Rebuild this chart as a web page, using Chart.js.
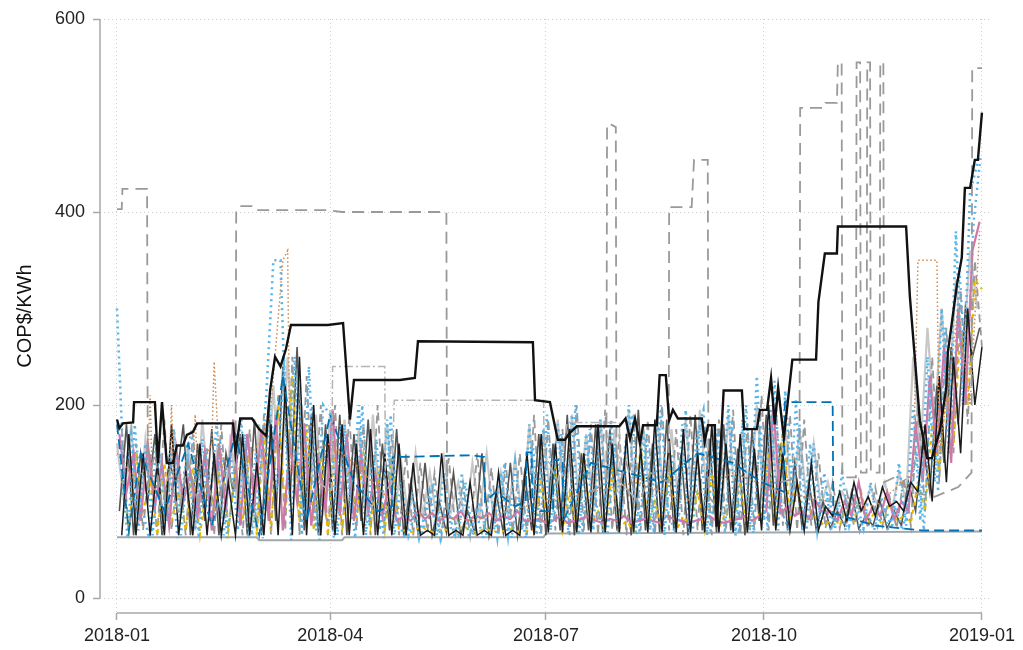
<!DOCTYPE html>
<html><head><meta charset="utf-8">
<script src="https://cdn.jsdelivr.net/npm/chart.js@4/dist/chart.umd.min.js"></script>
<style>html,body{margin:0;padding:0;background:#fff}</style>
</head><body>
<canvas id="c" width="1023" height="650"></canvas>
<script>
// ---- axis ticks ----
const xTickDays = [0, 90, 181, 273, 365];
const xTickLabels = ['2018-01', '2018-04', '2018-07', '2018-10', '2019-01'];
const yTicks = [0, 200, 400, 600];
const yTitle = 'COP$/KWh';

// ---- main black series (day of 2018, COP$/KWh) ----
const blackDays = [0,1,2.5,6.8,7.2,16,17.3,19,21,23.6,25.3,27.8,29.5,32,33.8,49,50,52,57,60,63,64.6,66.7,69,71.3,73.4,89,95.4,98.3,100,119.4,125.7,127,175.5,176.4,182.7,186,189,191,194,212,214.6,216.5,218.6,220.7,222,227.8,229,231.6,233,234.6,236.7,246.8,248,249.4,252.3,253,256,263.7,264.6,270,271.3,274.3,276,277.6,279,281.4,285,295,296,298.7,303.8,304.2,333,334.6,338.8,341.8,343.9,347.3,350,350.6,354.4,356.5,357.8,360,362,363.3,365];
const blackVals = [185,176,181,182,203,203,140,203,140,140,158,158,169,172,181,181,150,186,186,175,168,215,250,240,258,283,283,285,185,226,226,228,266,265,205,203,164,164,171,178,178,186,165,186,160,179,179,231,231,184,195,186,186,162,179,179,74,215,215,175,175,195,195,228,180,218,166,247,247,307,357,357,385,385,312,184,145,145,174,219,254,324,353,425,425,454,454,503];

// ---- high gray dashed series ----
const g1Days = [0,2,2.3,12.7,13,16,19,22,26,30,34,38,42,46,50,50.3,52,58,59,89,95,139,139.3];
const g1Vals = [403,403,424,424,118,150,95,130,88,140,100,120,90,135,110,402,406,406,402,402,400,400,85];
const g2Days = [200,206.5,206.8,207.5,210.5,210.8,215,220,225,232.8,233,242.5,243.5,249.3,249.6,255];
const g2Vals = [110,120,488,492,488,110,140,95,130,120,405,405,454,454,105,90];
const g3Days = [280,288,288.3,298.5,299,303.8,304.2,305.8,306.1,311.8,312.1,313.6,313.9,316.3,316.6,317.8,318.1,321.8,322.1,323.4,323.7,328,335,345,355,360.6,360.9,365];
const g3Vals = [120,125,508,508,513,513,555,555,125,125,555,555,130,130,555,555,130,130,555,555,120,125,110,105,115,130,549,549];

// ---- dash-dot light gray ----
const ddDays = [85,90.5,91,113,113.3,116,117,180,180.3,186,190,212,212.3,220];
const ddVals = [120,110,240,240,110,120,205,205,150,120,182,182,120,100];

// ---- blue dashed ----
const blueDays = [0,5,10,20,30,40,50,60,70,80,90,100,110,116,116.3,150,155,155.3,160,168,172.5,172.8,175,175.3,184,184.3,188,188.3,200,215,230,245,260,272,281.5,281.8,302,302.3,320,340,365];
const blueVals = [180,70,150,90,160,75,170,65,230,80,190,120,90,95,146,148,146,100,110,95,100,151,151,90,90,143,143,80,140,130,120,150,140,120,110,203,203,88,75,70,70];

// ---- floor (minimum price line) ----
const floorDays = [0,59,60,95,96,180,181,365];
const floorVals = [63,63,60,60,63,63,67,69];

// ---- orange dotted ----
const orangeDays = [0,8,13,14,15,22,23,24,32,33,34,40,41,43,50,60,65,70,72,73,80,90,100,120,150,180,200,220,240,260,280,300,320,336,338,346,347,355,360,364];
const orangeVals = [150,120,140,210,110,135,200,120,140,190,130,160,245,150,130,160,200,350,360,130,150,160,140,90,80,100,110,120,100,130,110,100,95,130,350,350,150,300,200,380];

// ---- dense cluster series, sampled every 3 days ----
const lightBlueVals = [300,120,170,70,160,65,150,80,175,65,140,70,165,90,180,65,150,70,170,65,
 120,210,350,350,120,250,65,240,70,200,
 190,65,180,90,200,65,150,70,185,65,
 120,65,90,65,110,65,130,70,65,120,65,100,65,70,130,65,140,70,
 180,65,175,70,180,100,190,65,170,70,185,65,160,90,200,65,175,70,190,65,150,80,195,70,180,65,170,100,200,65,185,70,
 230,80,200,70,215,100,180,70,160,75,
 110,72,130,75,100,72,120,75,95,72,140,75,
 200,80,250,120,300,150,380,200,420,450];
const lightBlue2Vals = [140,62,180,95,62,160,70,150,62,130,175,62,145,80,165,62,120,185,62,150,
 62,200,110,250,60,230,90,200,60,170,
 62,180,120,62,200,75,165,62,190,80,
 62,110,62,95,120,62,100,62,130,62,90,62,115,62,140,62,105,62,
 160,67,190,80,170,67,200,67,175,95,67,185,67,160,190,67,170,67,200,90,67,180,67,165,195,67,175,67,185,67,200,67,
 180,70,225,90,70,205,70,160,70,130,
 70,100,70,115,70,90,70,105,70,95,70,110,
 150,70,220,110,280,180,340,220,390,460];
const pinkVals = [170,110,150,80,160,95,140,75,155,100,130,85,150,70,160,90,185,75,170,100,
 175,80,190,70,160,100,180,75,140,90,
 195,85,170,80,150,90,130,85,120,80,
 85,80,90,82,88,80,85,82,90,80,85,83,88,80,85,82,90,80,
 80,82,78,80,85,78,80,82,85,80,78,82,80,85,78,80,82,80,78,85,82,80,78,80,82,85,80,78,80,82,85,80,
 85,90,200,88,95,85,90,82,100,88,
 90,80,100,85,120,80,95,85,110,82,100,90,
 180,120,230,150,260,140,300,200,360,390];
const yellowVals = [130,70,150,90,120,65,140,80,110,70,135,65,120,90,145,70,130,80,150,65,
 170,70,200,90,230,80,180,70,150,65,
 160,70,140,80,150,75,130,70,145,70,
 70,68,75,70,68,72,70,68,75,70,68,72,70,68,70,72,68,70,
 70,120,75,140,70,110,72,150,75,90,70,130,72,80,70,160,75,100,72,140,70,85,75,110,70,130,72,90,75,120,70,80,
 90,150,75,180,80,120,75,90,80,75,
 85,75,95,80,110,78,90,75,100,80,85,78,
 120,90,180,130,220,160,280,200,330,320];
const darkGrayVals = [90,180,65,150,100,170,65,140,120,180,65,160,80,175,65,150,110,170,65,185,
 65,200,80,240,100,260,70,190,65,180,
 70,190,65,170,80,185,65,160,70,175,
 65,120,68,140,65,100,68,130,65,90,68,150,65,110,68,140,65,130,
 70,170,65,160,70,190,65,150,70,180,68,175,70,140,65,195,70,160,68,185,70,150,65,190,70,165,68,180,70,155,65,175,
 80,190,75,160,70,140,75,120,72,100,
 72,90,75,110,72,85,75,100,72,90,75,120,
 90,160,110,220,140,260,180,300,250,280];
const grayVals = [175,65,160,70,150,65,185,70,140,65,170,90,155,65,180,70,140,65,175,70,
 190,65,210,70,250,65,230,80,200,65,
 200,65,190,70,180,65,200,70,170,65,
 150,65,140,68,130,65,145,68,120,65,150,68,135,65,140,68,150,65,
 190,65,185,70,175,65,200,70,180,65,195,70,170,65,190,70,185,65,200,70,175,65,190,70,180,65,185,70,195,65,180,70,
 210,70,200,75,190,70,185,75,150,72,
 120,72,110,75,100,72,115,75,105,72,125,75,
 200,90,250,120,280,150,320,180,350,260];
const lightGrayVals = [160,100,180,75,165,110,150,80,175,95,160,70,185,100,150,80,170,90,160,75,
 180,90,220,100,250,120,200,90,190,85,
 195,90,185,100,175,80,190,95,180,85,
 140,80,150,85,130,80,145,90,120,80,140,85,150,80,130,85,145,80,
 180,90,175,100,185,85,190,95,170,90,185,100,175,85,195,90,180,100,190,85,175,95,185,90,195,100,180,85,190,95,175,90,
 200,100,190,95,180,90,175,100,160,95,
 120,90,110,95,100,90,115,95,120,90,130,100,
 250,150,280,180,300,200,330,250,360,300];
const thinBlackVals = [65,170,65,150,65,140,65,180,65,130,65,160,65,150,65,120,65,170,65,140,
 65,180,65,220,65,250,65,200,65,170,
 65,180,65,160,65,175,65,150,65,160,
 65,140,65,70,65,150,65,70,65,120,65,70,65,130,65,70,65,150,
 65,170,68,160,68,175,68,150,68,180,68,160,68,170,68,155,68,185,68,165,68,175,68,150,68,180,68,160,68,170,68,155,
 70,200,70,150,70,120,70,140,70,95,
 85,110,80,120,90,105,85,115,95,100,90,120,
 110,180,100,230,120,250,150,300,200,260];

const pairs = (days, vals) => days.map((d, i) => ({x: d, y: vals[i]}));
const every3 = (off, vals) => vals.map((v, i) => ({x: off + 3 * i, y: v}));

function ds(data, color, width, dash) {
  return {data, borderColor: color, borderWidth: width, borderDash: dash || [],
    pointRadius: 0, tension: 0, fill: false, spanGaps: false};
}

const datasets = [
  ds(pairs(blackDays, blackVals), '#111111', 2.4),
  ds(pairs(g1Days, g1Vals), '#9a9a9a', 1.8, [12, 7]),
  ds(pairs(g2Days, g2Vals), '#9a9a9a', 1.8, [12, 7]),
  ds(pairs(g3Days, g3Vals), '#9a9a9a', 1.8, [12, 7]),
  ds(pairs(ddDays, ddVals), '#b5b5b5', 1.5, [9, 3, 2, 3]),
  ds(pairs(blueDays, blueVals), '#0072B2', 1.8, [10, 5]),
  ds(pairs(orangeDays, orangeVals), '#D08A4E', 1.5, [1.5, 2.5]),
  ds(every3(2, thinBlackVals), '#1a1a1a', 1.5),
  ds(every3(0, lightBlueVals), '#56B4E9', 2.6, [2, 4]),
  ds(every3(1, pinkVals), '#CC79A7', 2.2),
  ds(every3(1.5, lightBlue2Vals), '#56B4E9', 2.4, [2, 4]),
  ds(every3(2, yellowVals), '#E6B800', 2, [4, 4]),
  ds(every3(1, darkGrayVals), '#555555', 1.6),
  ds(every3(2, grayVals), '#999999', 1.8, [8, 5]),
  ds(every3(0, lightGrayVals), '#c8c8c8', 2.2),
  ds(pairs(floorDays, floorVals), '#a0a8ae', 2)
];

const axisLines = {
  id: 'axisLines',
  beforeDatasetsDraw(chart) {
    const {ctx, scales: {x, y}, chartArea} = chart;
    ctx.save();
    ctx.strokeStyle = '#a8a8a8';
    ctx.lineWidth = 1.5;
    ctx.setLineDash([]);
    ctx.beginPath();
    ctx.moveTo(chartArea.left, y.getPixelForValue(yTicks[0]));
    ctx.lineTo(chartArea.left, y.getPixelForValue(yTicks[yTicks.length - 1]));
    ctx.moveTo(x.getPixelForValue(xTickDays[0]), chartArea.bottom);
    ctx.lineTo(x.getPixelForValue(xTickDays[xTickDays.length - 1]), chartArea.bottom);
    ctx.stroke();
    ctx.restore();
  }
};

const tickFont = {family: "'Liberation Sans', Arial, sans-serif", size: 18};

new Chart(document.getElementById('c'), {
  type: 'line',
  data: {datasets},
  plugins: [axisLines],
  options: {
    responsive: false,
    animation: false,
    events: [],
    layout: {padding: {top: 19, right: 33, left: 0, bottom: 0}},
    plugins: {legend: {display: false}, tooltip: {enabled: false}},
    scales: {
      x: {
        type: 'linear', min: -7.17, max: 368.4,
        afterBuildTicks: s => { s.ticks = xTickDays.map(v => ({value: v})); },
        afterFit: s => { s.height = 37; },
        ticks: {font: tickFont, color: '#222', padding: 5, maxRotation: 0, autoSkip: false,
          callback: v => xTickLabels[xTickDays.indexOf(v)]},
        grid: {color: '#cfcfcf', lineWidth: 1, tickLength: 7, tickColor: '#a8a8a8', tickWidth: 1.5},
        border: {display: false, dash: [1, 3]}
      },
      y: {
        type: 'linear', min: -15.5, max: 600,
        afterBuildTicks: s => { s.ticks = yTicks.map(v => ({value: v})); },
        afterFit: s => { s.width = 100; },
        ticks: {font: tickFont, color: '#222', padding: 8},
        grid: {color: '#cfcfcf', lineWidth: 1, tickLength: 7, tickColor: '#a8a8a8', tickWidth: 1.5},
        border: {display: false, dash: [1, 3]},
        title: {display: true, text: yTitle, color: '#111',
          font: {family: "'Liberation Sans', Arial, sans-serif", size: 20}, padding: {top: 13, bottom: 0}}
      }
    }
  }
});
</script>
</body></html>
